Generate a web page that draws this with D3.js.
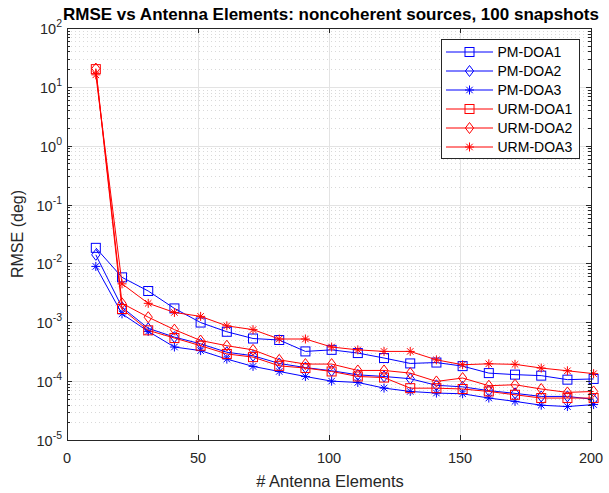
<!DOCTYPE html>
<html>
<head>
<meta charset="utf-8">
<script src="https://cdn.jsdelivr.net/npm/d3@7"></script>
<style>
  body { margin: 0; background: #fff; }
  text { font-family: "Liberation Sans", Arial, Helvetica, sans-serif; }
</style>
</head>
<body>
<div id="vis"></div>
<script>
// RMSE vs number of antenna elements, log y axis, MATLAB-ish look

// 1) Data (read off the picture)
const elements = [11, 21, 31, 41, 51, 61, 71, 81, 91, 101, 111, 121, 131, 141, 151, 161, 171, 181, 191, 201];

const pmDoa1 = [0.0184, 0.0058, 0.0034, 0.00172, 0.00099, 0.00069, 0.00053, 0.0005, 0.00032, 0.00034,
                0.0003, 0.000247, 0.0002, 0.000207, 0.00018, 0.000137, 0.000129, 0.000124, 0.000106, 0.000109];
const pmDoa2 = [0.014, 0.0018, 0.00079, 0.00056, 0.00043, 0.00031, 0.00027, 0.0002, 0.00017, 0.00015,
                0.000128, 0.00012, 0.00011, 0.000085, 0.00008, 0.000069, 0.000062, 0.000055, 0.000055, 0.000049];
const pmDoa3 = [0.0089, 0.00139, 0.0007, 0.00038, 0.00033, 0.000237, 0.000178, 0.000146, 0.00012, 0.0001,
                0.000095, 0.0000762, 0.0000668, 0.0000627, 0.000061, 0.0000516, 0.0000453, 0.000039, 0.000037, 0.00004];
const urmDoa1 = [20, 0.00168, 0.00073, 0.00054, 0.0004, 0.00029, 0.000256, 0.000182, 0.000167, 0.000146,
                 0.00012, 0.000115, 0.000076, 0.000076, 0.0000735, 0.0000668, 0.0000587, 0.0000516, 0.0000516, 0.0000516];
const urmDoa2 = [20.5, 0.0021, 0.00122, 0.00075, 0.00049, 0.0004, 0.00034, 0.00023, 0.000195, 0.000195,
                 0.000152, 0.000152, 0.000137, 0.0000989, 0.000113, 0.0000836, 0.0000869, 0.0000735, 0.0000644, 0.0000668];
const urmDoa3 = [16, 0.0045, 0.0021, 0.00147, 0.00126, 0.00087, 0.00075, 0.00052, 0.00052, 0.00038,
                 0.00034, 0.00032, 0.00032, 0.00023, 0.00019, 0.000197, 0.000193, 0.000167, 0.00015, 0.000134];

const seriesNames = ["PM-DOA1", "PM-DOA2", "PM-DOA3", "URM-DOA1", "URM-DOA2", "URM-DOA3"];
const seriesValues = [pmDoa1, pmDoa2, pmDoa3, urmDoa1, urmDoa2, urmDoa3];
const seriesColors = ["#0000ff", "#0000ff", "#0000ff", "#ff0000", "#ff0000", "#ff0000"];
const seriesMarkers = ["square", "diamond", "star", "square", "diamond", "star"];

const xTicks = [0, 50, 100, 150, 200];
const yExps = [-5, -4, -3, -2, -1, 0, 1, 2];

// 2) Dimensions
const width = 609, height = 493;
const plot = { left: 67, right: 591, top: 28, bottom: 440 };
const axisColor = "#262626";

const svg = d3.select("#vis").append("svg")
  .attr("width", width)
  .attr("height", height)
  .style("display", "block");

// 3) Scales
const x = d3.scaleLinear().domain([0, 200]).range([plot.left, plot.right]);
const y = d3.scaleLog().domain([1e-5, 1e2]).range([plot.bottom, plot.top]);

// 4) Grid
const grid = svg.append("g");
// minor y grid (dotted)
yExps.slice(0, -1).forEach(e => {
  for (let m = 2; m <= 9; m++) {
    const v = m * Math.pow(10, e);
    grid.append("line")
      .attr("x1", plot.left).attr("x2", plot.right)
      .attr("y1", Math.round(y(v)) + 0.5).attr("y2", Math.round(y(v)) + 0.5)
      .attr("stroke", "#d9d9d9")
      .attr("stroke-dasharray", "1,3");
  }
});
// major grid
yExps.forEach(e => {
  const py = Math.round(y(Math.pow(10, e))) + 0.5;
  grid.append("line")
    .attr("x1", plot.left).attr("x2", plot.right)
    .attr("y1", py).attr("y2", py)
    .attr("stroke", "#e3e3e3");
});
xTicks.forEach(t => {
  const px = Math.round(x(t)) + 0.5;
  grid.append("line")
    .attr("x1", px).attr("x2", px)
    .attr("y1", plot.top).attr("y2", plot.bottom)
    .attr("stroke", "#e3e3e3");
});

// 5) Markers
function drawMarker(g, type, cx, cy, color) {
  if (type === "square") {
    g.append("rect")
      .attr("x", cx - 4.5).attr("y", cy - 4.5)
      .attr("width", 9).attr("height", 9)
      .attr("fill", "none").attr("stroke", color).attr("stroke-width", 1);
  } else if (type === "diamond") {
    const r = 5.5;
    g.append("path")
      .attr("d", `M${cx},${cy - r}L${cx + r * 0.75},${cy}L${cx},${cy + r}L${cx - r * 0.75},${cy}Z`)
      .attr("fill", "none").attr("stroke", color).attr("stroke-width", 1);
  } else {
    const r = 4.5, d = r * 0.72;
    g.append("path")
      .attr("d", `M${cx},${cy - r}V${cy + r}M${cx - r},${cy}H${cx + r}` +
                 `M${cx - d},${cy - d}L${cx + d},${cy + d}M${cx - d},${cy + d}L${cx + d},${cy - d}`)
      .attr("fill", "none").attr("stroke", color).attr("stroke-width", 1);
  }
}

// 6) Series
const line = d3.line().x(d => x(d[0])).y(d => y(d[1]));
const dataG = svg.append("g");
seriesValues.forEach((vals, i) => {
  const pts = elements.map((e, j) => [e, vals[j]]);
  const g = dataG.append("g");
  g.append("path")
    .datum(pts)
    .attr("d", line)
    .attr("fill", "none")
    .attr("stroke", seriesColors[i])
    .attr("stroke-width", 1);
  pts.forEach(p => drawMarker(g, seriesMarkers[i], x(p[0]), y(p[1]), seriesColors[i]));
});

// 7) Axes box and ticks
const axes = svg.append("g");
axes.append("rect")
  .attr("x", plot.left + 0.5).attr("y", plot.top + 0.5)
  .attr("width", plot.right - plot.left).attr("height", plot.bottom - plot.top)
  .attr("fill", "none").attr("stroke", axisColor).attr("stroke-width", 1);

const majorLen = 5, minorLen = 3;
xTicks.forEach(t => {
  const px = Math.round(x(t)) + 0.5;
  axes.append("line").attr("x1", px).attr("x2", px)
    .attr("y1", plot.bottom).attr("y2", plot.bottom - majorLen).attr("stroke", axisColor);
  axes.append("line").attr("x1", px).attr("x2", px)
    .attr("y1", plot.top).attr("y2", plot.top + majorLen).attr("stroke", axisColor);
  axes.append("text")
    .attr("x", x(t)).attr("y", plot.bottom + 23)
    .attr("text-anchor", "middle")
    .attr("font-size", "14.5px")
    .attr("fill", axisColor)
    .text(t);
});

yExps.forEach(e => {
  const py = Math.round(y(Math.pow(10, e))) + 0.5;
  axes.append("line").attr("x1", plot.left).attr("x2", plot.left + majorLen)
    .attr("y1", py).attr("y2", py).attr("stroke", axisColor);
  axes.append("line").attr("x1", plot.right).attr("x2", plot.right - majorLen)
    .attr("y1", py).attr("y2", py).attr("stroke", axisColor);
  if (e < 2) {
    for (let m = 2; m <= 9; m++) {
      const my = Math.round(y(m * Math.pow(10, e))) + 0.5;
      axes.append("line").attr("x1", plot.left).attr("x2", plot.left + minorLen)
        .attr("y1", my).attr("y2", my).attr("stroke", axisColor);
      axes.append("line").attr("x1", plot.right).attr("x2", plot.right - minorLen)
        .attr("y1", my).attr("y2", my).attr("stroke", axisColor);
    }
  }
  const label = axes.append("text")
    .attr("x", plot.left - 5).attr("y", y(Math.pow(10, e)) + 6)
    .attr("text-anchor", "end")
    .attr("font-size", "14.5px")
    .attr("fill", axisColor);
  label.append("tspan").text("10");
  label.append("tspan").attr("dy", -7).attr("font-size", "10.5px").text(e);
});

// 8) Labels
svg.append("text")
  .attr("x", (plot.left + plot.right) / 2 + 2).attr("y", 20)
  .attr("text-anchor", "middle")
  .attr("font-size", "17px")
  .attr("font-weight", "bold")
  .attr("fill", "#000")
  .text("RMSE vs Antenna Elements: noncoherent sources, 100 snapshots");

svg.append("text")
  .attr("x", (plot.left + plot.right) / 2 + 1).attr("y", 487)
  .attr("text-anchor", "middle")
  .attr("font-size", "16.5px")
  .attr("fill", axisColor)
  .text("# Antenna Elements");

svg.append("text")
  .attr("transform", `translate(23,${(plot.top + plot.bottom) / 2}) rotate(-90)`)
  .attr("text-anchor", "middle")
  .attr("font-size", "16px")
  .attr("fill", axisColor)
  .text("RMSE (deg)");

// 9) Legend
const legend = svg.append("g").attr("transform", "translate(441,39)");
legend.append("rect")
  .attr("x", 0.5).attr("y", 0.5)
  .attr("width", 138).attr("height", 119)
  .attr("fill", "#fff").attr("stroke", axisColor);
seriesNames.forEach((name, i) => {
  const ly = 13 + i * 19;
  const item = legend.append("g");
  item.append("line")
    .attr("x1", 5).attr("x2", 52).attr("y1", ly).attr("y2", ly)
    .attr("stroke", seriesColors[i]).attr("stroke-width", 1);
  drawMarker(item, seriesMarkers[i], 28.5, ly, seriesColors[i]);
  item.append("text")
    .attr("x", 56.5).attr("y", ly + 5)
    .attr("font-size", "14px")
    .attr("fill", "#000")
    .text(name);
});
</script>
</body>
</html>
